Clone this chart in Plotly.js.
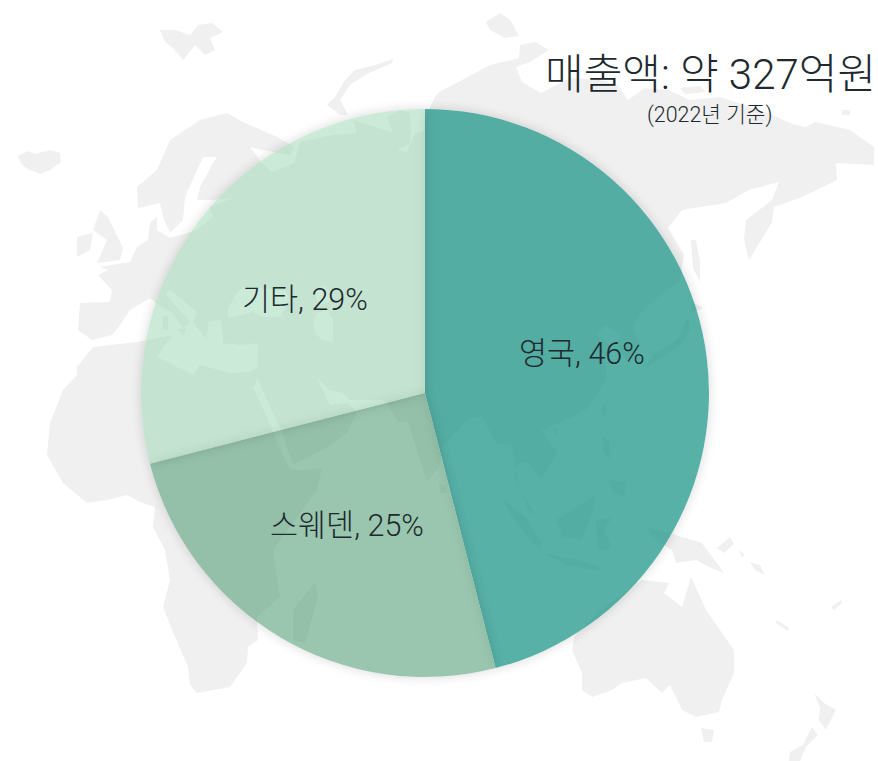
<!DOCTYPE html>
<html>
<head>
<meta charset="utf-8">
<script src="https://cdn.plot.ly/plotly-3.0.1.min.js"></script>
<style>html,body{margin:0;padding:0;background:#fff}#chart{width:878px;height:761px}</style>
</head>
<body>
<svg width="0" height="0" style="position:absolute">
<filter id="sh" x="-15%" y="-15%" width="130%" height="130%" color-interpolation-filters="sRGB">
<feColorMatrix in="SourceAlpha" type="matrix" values="0 0 0 0 0  0 0 0 0 0  0 0 0 0 0  0 0 0 2 0" result="solid"/>
<feGaussianBlur in="solid" stdDeviation="6" result="blur"/>
<feComposite in="blur" in2="solid" operator="out" result="outer"/>
<feComponentTransfer in="outer" result="soft"><feFuncA type="linear" slope="0.15"/></feComponentTransfer>
<feMerge><feMergeNode in="soft"/><feMergeNode in="SourceGraphic"/></feMerge>
</filter>
</svg>
<div id="chart"></div>
<script>
var categories = ['영국', '스웨덴', '기타'];
var shares = [46, 25, 29];
var sliceColors = ['rgba(31,151,138,0.75)', 'rgba(87,160,122,0.6)', 'rgba(151,213,177,0.5)'];
var titleMain = '매출액: 약 327억원';
var titleSub = '(2022년 기준)';

// Decorative grey world map behind the pie (page pixel outlines).
var mapLand = [
 // Eurasia + Africa
 [[92,340],[78,330],[80,303],[110,302],[112,290],[98,275],[108,270],[100,267],[130,262],[137,247],[148,240],[150,223],[157,217],[157,230],[170,238],[197,230],[213,217],[210,207],[233,198],[213,200],[197,200],[200,187],[213,163],[217,157],[203,157],[185,197],[183,220],[170,233],[163,217],[160,203],[138,208],[137,187],[157,170],[170,140],[200,120],[227,113],[243,122],[277,137],[295,147],[290,155],[262,150],[250,147],[262,163],[272,172],[295,163],[298,148],[300,142],[333,135],[357,133],[353,120],[385,130],[393,133],[387,117],[400,110],[410,113],[411,130],[410,143],[397,150],[407,152],[415,133],[423,132],[425,118],[435,97],[439,92],[462,80],[490,65],[519,58],[520,45],[535,42],[549,50],[530,62],[516,67],[522,82],[541,93],[570,78],[600,80],[618,85],[628,100],[645,88],[668,90],[690,100],[720,97],[760,110],[795,125],[806,127],[815,122],[850,130],[874,147],[874,165],[836,163],[837,180],[802,197],[774,207],[772,222],[749,260],[744,240],[746,220],[772,200],[779,182],[749,190],[726,203],[682,210],[668,228],[684,255],[680,280],[643,310],[633,327],[640,345],[628,360],[618,350],[620,335],[605,325],[597,335],[610,345],[605,360],[607,373],[606,380],[586,410],[566,420],[542,430],[557,453],[541,480],[529,463],[519,463],[514,477],[536,517],[528,510],[518,480],[511,443],[497,445],[482,417],[469,418],[442,447],[440,465],[427,482],[408,422],[398,422],[387,403],[383,400],[350,400],[343,393],[330,390],[317,378],[330,405],[347,403],[357,412],[347,433],[323,450],[293,465],[282,432],[273,413],[257,378],[253,390],[248,378],[267,417],[273,433],[290,470],[305,470],[322,468],[317,490],[273,550],[280,597],[257,617],[258,640],[248,647],[247,663],[230,687],[197,693],[190,685],[188,667],[175,637],[163,607],[170,580],[165,550],[153,527],[155,507],[140,502],[127,495],[107,500],[87,503],[63,483],[47,455],[50,423],[63,390],[77,375],[77,367],[93,347],[137,342],[148,340],[173,335],[165,345],[160,352],[157,357],[193,375],[200,365],[230,373],[250,372],[257,367],[258,343],[240,345],[223,343],[223,333],[220,320],[208,322],[207,340],[193,322],[197,312],[170,290],[165,294],[190,322],[183,328],[172,312],[160,306],[150,298],[130,310],[120,325],[112,335]],
 // Iceland
 [[18,156],[28,151],[35,154],[50,150],[60,153],[61,162],[50,170],[40,174],[28,169],[22,165]],
 // Svalbard
 [[160,30],[175,30],[190,35],[198,25],[212,23],[223,32],[210,38],[215,50],[205,55],[195,45],[183,60],[173,48],[165,42]],
 // Novaya Zemlya
 [[393,59],[375,65],[355,70],[345,80],[335,97],[327,105],[340,115],[348,115],[340,100],[350,85],[365,75],[392,63]],
 // Severnaya Zemlya
 [[486,22],[500,13],[510,20],[519,36],[505,38],[490,30]],
 // Britain, Ireland
 [[100,210],[108,217],[123,248],[120,260],[97,263],[107,240],[93,230]],
 [[77,237],[93,233],[90,250],[77,257]],
 // New Siberian, Wrangel
 [[680,88],[700,86],[706,92],[685,94]],
 [[842,110],[850,110],[850,115],[842,115]],
 // Sakhalin, Hokkaido, Honshu
 [[691,240],[696,240],[700,260],[700,282],[693,268]],
 [[692,302],[703,308],[690,314]],
 [[688,317],[690,330],[683,343],[660,358],[643,370],[653,355],[677,340]],
 // Madagascar
 [[315,582],[318,597],[305,643],[293,640],[293,610]],
 // Sicily, Sardinia, Cyprus
 [[176,329],[186,328],[184,336]],
 [[163,316],[168,316],[168,330],[163,330]],
 // Sri Lanka, Taiwan, Hainan
 [[439,483],[446,486],[446,493],[440,493]],
 [[604,403],[607,406],[604,417],[601,413]],
 [[552,428],[558,428],[556,436]],
 // Philippines
 [[602,437],[609,440],[610,460],[604,452]],
 [[609,480],[626,482],[624,497],[612,492]],
 // Sumatra, Java, Borneo, Sulawesi
 [[501,498],[526,517],[542,543],[539,550],[516,523]],
 [[542,553],[579,560],[602,568],[600,571],[570,566]],
 [[556,520],[582,503],[596,495],[592,513],[582,540],[562,537]],
 [[596,520],[612,518],[604,530],[612,548],[598,550]],
 // New Guinea
 [[646,527],[669,533],[702,543],[724,573],[709,567],[696,560],[676,563],[672,550],[656,540]],
 // Bismarck, Solomon, New Caledonia, Fiji
 [[717,548],[730,537],[734,544],[724,553]],
 [[739,550],[745,555],[742,558]],
 [[750,562],[760,565],[765,575],[755,570]],
 [[777,620],[789,628],[788,631],[776,623]],
 [[831,607],[841,600],[842,603],[834,610]],
 // Australia, Tasmania
 [[574,637],[600,610],[642,580],[669,583],[664,593],[682,607],[691,577],[706,610],[722,633],[734,650],[734,673],[722,700],[719,712],[696,717],[682,710],[676,697],[670,685],[662,693],[646,678],[622,683],[612,690],[592,697],[582,690],[582,673],[572,650]],
 [[701,728],[714,730],[712,742],[704,742]],
 // New Zealand
 [[814,693],[824,703],[836,710],[826,730],[819,720],[820,708]],
 [[812,727],[818,735],[806,747],[800,761],[789,761],[790,752],[803,745]]
];
var mapHoles = [
 // Black Sea, Caspian, Aral
 [[228,308],[237,293],[243,287],[285,290],[290,300],[280,317],[263,317],[253,312],[228,318]],
 [[313,323],[317,313],[327,310],[333,320],[333,342],[322,340],[315,333]],
 [[313,290],[326,285],[332,300],[320,305]]
];

var W = 878, H = 761;
function signedArea(p){var a=0;for(var i=0;i<p.length;i++){var q=p[(i+1)%p.length];a+=p[i][0]*q[1]-q[0]*p[i][1];}return a;}
function toPath(list, wantPositive){
  return list.map(function(poly){
    var pts = ((signedArea(poly) > 0) === wantPositive) ? poly : poly.slice().reverse();
    return 'M' + pts.map(function(p){return (p[0]/W).toFixed(5)+','+(1-p[1]/H).toFixed(5);}).join('L') + 'Z';
  }).join(' ');
}

var FONT = 'Roboto, "Noto Sans CJK KR", sans-serif';
var INK = '#20292E';
var labelCentres = [[582,354],[347,525],[305,300]];
var cx = 425, cy = 393, R = 284;
var trace = {
  type: 'pie',
  labels: categories,
  values: shares,
  sort: false,
  direction: 'clockwise',
  rotation: 0,
  marker: {colors: sliceColors, line: {width: 0}},
  textinfo: 'none',
  hoverinfo: 'none',
  showlegend: false,
  domain: {x: [(cx-R)/W, (cx+R)/W], y: [(H-cy-R)/H, (H-cy+R)/H]}
};
var sliceNotes = categories.map(function(name, i){
  return {text: name + ', ' + shares[i] + '%', xref:'paper', yref:'paper',
    x: labelCentres[i][0]/W, y: 1-labelCentres[i][1]/H, xanchor:'center', yanchor:'middle', showarrow:false,
    font:{family:FONT, size:30.5, color:INK, weight:300}};
});
var layout = {
  width: W, height: H,
  margin: {l:0, r:0, t:0, b:0},
  paper_bgcolor: '#ffffff',
  plot_bgcolor: '#ffffff',
  showlegend: false,
  shapes: [{
    type: 'path', layer: 'below', xref: 'paper', yref: 'paper',
    path: toPath(mapLand, true) + ' ' + toPath(mapHoles, false),
    fillcolor: '#F0F0F0', line: {width: 0}
  }],
  annotations: sliceNotes.concat([
    {text: titleMain, xref:'paper', yref:'paper', x:710/W, y:1-74/H, xanchor:'center', yanchor:'middle', showarrow:false,
     font:{family:FONT, size:42, color:INK, weight:300}},
    {text: titleSub, xref:'paper', yref:'paper', x:710/W, y:1-115/H, xanchor:'center', yanchor:'middle', showarrow:false,
     font:{family:FONT, size:21.4, color:INK, weight:300}}
  ])
};
Plotly.newPlot('chart', [trace], layout, {staticPlot:true, displayModeBar:false}).then(function(){
  document.querySelectorAll('.pielayer path.surface').forEach(function(p){ p.style.filter = 'url(#sh)'; });
});
</script>
</body>
</html>
